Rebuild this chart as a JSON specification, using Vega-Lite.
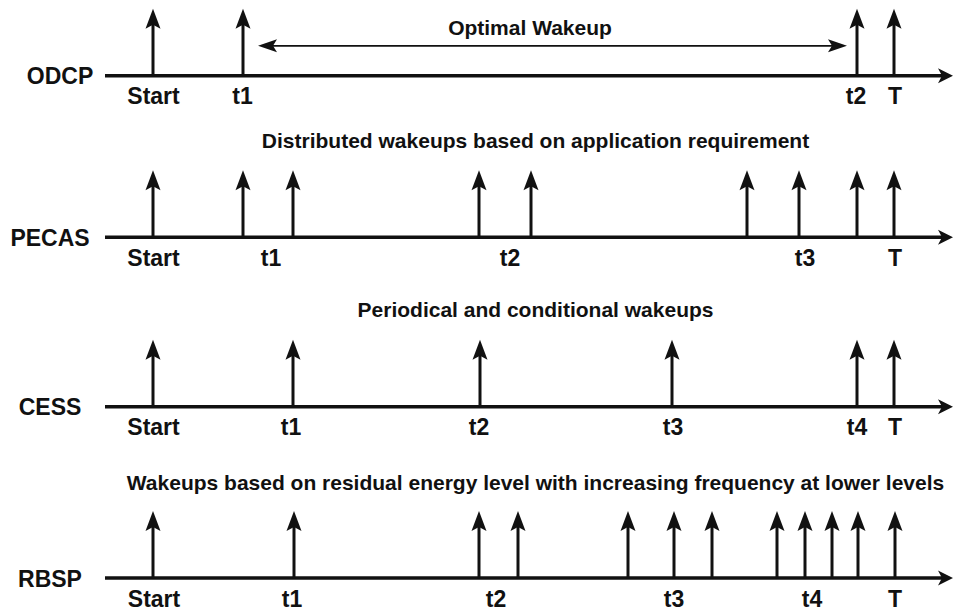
{
  "$schema": "https://vega.github.io/schema/vega-lite/v6.json",
  "width": 954,
  "height": 612,
  "autosize": {"type": "fit", "contains": "padding"},
  "padding": 0,
  "background": "#ffffff",
  "config": {"view": {"stroke": null}},
  "datasets": {
    "rows": [
      {"row": "ODCP", "axisY": 76, "nameX": 60, "from": 105, "to": 953},
      {"row": "PECAS", "axisY": 238, "nameX": 50, "from": 105, "to": 953},
      {"row": "CESS", "axisY": 408, "nameX": 50, "from": 105, "to": 953},
      {"row": "RBSP", "axisY": 580, "nameX": 50, "from": 105, "to": 953}
    ],
    "wakeups": [
      {"row": "ODCP", "axisY": 76, "t": 153},
      {"row": "ODCP", "axisY": 76, "t": 243},
      {"row": "ODCP", "axisY": 76, "t": 857},
      {"row": "ODCP", "axisY": 76, "t": 894},
      {"row": "PECAS", "axisY": 238, "t": 153},
      {"row": "PECAS", "axisY": 238, "t": 243},
      {"row": "PECAS", "axisY": 238, "t": 293},
      {"row": "PECAS", "axisY": 238, "t": 479},
      {"row": "PECAS", "axisY": 238, "t": 531},
      {"row": "PECAS", "axisY": 238, "t": 747},
      {"row": "PECAS", "axisY": 238, "t": 799},
      {"row": "PECAS", "axisY": 238, "t": 857},
      {"row": "PECAS", "axisY": 238, "t": 894},
      {"row": "CESS", "axisY": 408, "t": 153},
      {"row": "CESS", "axisY": 408, "t": 293},
      {"row": "CESS", "axisY": 408, "t": 480},
      {"row": "CESS", "axisY": 408, "t": 672},
      {"row": "CESS", "axisY": 408, "t": 857},
      {"row": "CESS", "axisY": 408, "t": 894},
      {"row": "RBSP", "axisY": 580, "t": 153},
      {"row": "RBSP", "axisY": 580, "t": 294},
      {"row": "RBSP", "axisY": 580, "t": 479},
      {"row": "RBSP", "axisY": 580, "t": 518},
      {"row": "RBSP", "axisY": 580, "t": 628},
      {"row": "RBSP", "axisY": 580, "t": 674},
      {"row": "RBSP", "axisY": 580, "t": 712},
      {"row": "RBSP", "axisY": 580, "t": 777},
      {"row": "RBSP", "axisY": 580, "t": 805},
      {"row": "RBSP", "axisY": 580, "t": 832},
      {"row": "RBSP", "axisY": 580, "t": 858},
      {"row": "RBSP", "axisY": 580, "t": 895}
    ],
    "labels": [
      {"row": "ODCP", "axisY": 76, "t": 153.5, "label": "Start"},
      {"row": "ODCP", "axisY": 76, "t": 242.5, "label": "t1"},
      {"row": "ODCP", "axisY": 76, "t": 856, "label": "t2"},
      {"row": "ODCP", "axisY": 76, "t": 895, "label": "T"},
      {"row": "PECAS", "axisY": 238, "t": 153.5, "label": "Start"},
      {"row": "PECAS", "axisY": 238, "t": 271, "label": "t1"},
      {"row": "PECAS", "axisY": 238, "t": 510, "label": "t2"},
      {"row": "PECAS", "axisY": 238, "t": 805, "label": "t3"},
      {"row": "PECAS", "axisY": 238, "t": 895, "label": "T"},
      {"row": "CESS", "axisY": 408, "t": 153.5, "label": "Start"},
      {"row": "CESS", "axisY": 408, "t": 291, "label": "t1"},
      {"row": "CESS", "axisY": 408, "t": 479, "label": "t2"},
      {"row": "CESS", "axisY": 408, "t": 673, "label": "t3"},
      {"row": "CESS", "axisY": 408, "t": 857, "label": "t4"},
      {"row": "CESS", "axisY": 408, "t": 895, "label": "T"},
      {"row": "RBSP", "axisY": 580, "t": 154, "label": "Start"},
      {"row": "RBSP", "axisY": 580, "t": 292, "label": "t1"},
      {"row": "RBSP", "axisY": 580, "t": 496, "label": "t2"},
      {"row": "RBSP", "axisY": 580, "t": 674, "label": "t3"},
      {"row": "RBSP", "axisY": 580, "t": 812, "label": "t4"},
      {"row": "RBSP", "axisY": 580, "t": 895, "label": "T"}
    ],
    "titles": [
      {"text": "Optimal Wakeup", "x": 530, "y": 35},
      {"text": "Distributed wakeups based on application requirement", "x": 535.5, "y": 148},
      {"text": "Periodical and conditional wakeups", "x": 535.5, "y": 318},
      {"text": "Wakeups based on residual energy level with increasing frequency at lower levels", "x": 535.5, "y": 492}
    ],
    "span": [{"from": 258, "to": 847, "y": 46}]
  },
  "layer": [
    {
      "data": {"name": "rows"},
      "mark": {"type": "rule", "color": "#111111", "strokeWidth": 3.5, "x2Offset": -8},
      "encoding": {
        "x": {"field": "from", "type": "quantitative", "scale": {"domain": [0, 954], "nice": false, "zero": false}, "axis": null},
        "x2": {"field": "to"},
        "y": {"field": "axisY", "type": "quantitative", "scale": {"domain": [0, 612], "nice": false, "zero": false, "reverse": true}, "axis": null}
      }
    },
    {
      "data": {"name": "rows"},
      "mark": {"type": "point", "shape": "M0,0L-1.5,-0.75L-1.1,0L-1.5,0.75Z", "size": 400, "filled": true, "opacity": 1, "color": "#111111", "strokeWidth": 0},
      "encoding": {
        "x": {"field": "to", "type": "quantitative"},
        "y": {"field": "axisY", "type": "quantitative"}
      }
    },
    {
      "data": {"name": "wakeups"},
      "mark": {"type": "rule", "color": "#111111", "strokeWidth": 3, "yOffset": -52},
      "encoding": {
        "x": {"field": "t", "type": "quantitative"},
        "y": {"field": "axisY", "type": "quantitative"},
        "y2": {"field": "axisY"}
      }
    },
    {
      "data": {"name": "wakeups"},
      "mark": {"type": "point", "shape": "M0,0L0.75,2L0,1.6L-0.75,2Z", "size": 400, "filled": true, "opacity": 1, "color": "#111111", "strokeWidth": 0, "yOffset": -67},
      "encoding": {
        "x": {"field": "t", "type": "quantitative"},
        "y": {"field": "axisY", "type": "quantitative"}
      }
    },
    {
      "data": {"name": "labels"},
      "mark": {"type": "text", "font": "Liberation Sans", "fontWeight": "bold", "fontSize": 23, "color": "#111111", "align": "center", "baseline": "alphabetic", "dy": 28.5},
      "encoding": {
        "x": {"field": "t", "type": "quantitative"},
        "y": {"field": "axisY", "type": "quantitative"},
        "text": {"field": "label"}
      }
    },
    {
      "data": {"name": "rows"},
      "mark": {"type": "text", "font": "Liberation Sans", "fontWeight": "bold", "fontSize": 23, "color": "#111111", "align": "center", "baseline": "alphabetic", "dy": 8.5},
      "encoding": {
        "x": {"field": "nameX", "type": "quantitative"},
        "y": {"field": "axisY", "type": "quantitative"},
        "text": {"field": "row"}
      }
    },
    {
      "data": {"name": "titles"},
      "mark": {"type": "text", "font": "Liberation Sans", "fontWeight": "bold", "fontSize": 21, "color": "#111111", "align": "center", "baseline": "alphabetic"},
      "encoding": {
        "x": {"field": "x", "type": "quantitative"},
        "y": {"field": "y", "type": "quantitative"},
        "text": {"field": "text"}
      }
    },
    {
      "data": {"name": "span"},
      "mark": {"type": "rule", "color": "#111111", "strokeWidth": 1.8, "xOffset": 12, "x2Offset": -12},
      "encoding": {
        "x": {"field": "from", "type": "quantitative"},
        "x2": {"field": "to"},
        "y": {"field": "y", "type": "quantitative"}
      }
    },
    {
      "data": {"name": "span"},
      "mark": {"type": "point", "shape": "M0,0L1.9,-0.65L1.5,0L1.9,0.65Z", "size": 400, "filled": true, "opacity": 1, "color": "#111111", "strokeWidth": 0},
      "encoding": {
        "x": {"field": "from", "type": "quantitative"},
        "y": {"field": "y", "type": "quantitative"}
      }
    },
    {
      "data": {"name": "span"},
      "mark": {"type": "point", "shape": "M0,0L-1.9,-0.65L-1.5,0L-1.9,0.65Z", "size": 400, "filled": true, "opacity": 1, "color": "#111111", "strokeWidth": 0},
      "encoding": {
        "x": {"field": "to", "type": "quantitative"},
        "y": {"field": "y", "type": "quantitative"}
      }
    }
  ]
}
